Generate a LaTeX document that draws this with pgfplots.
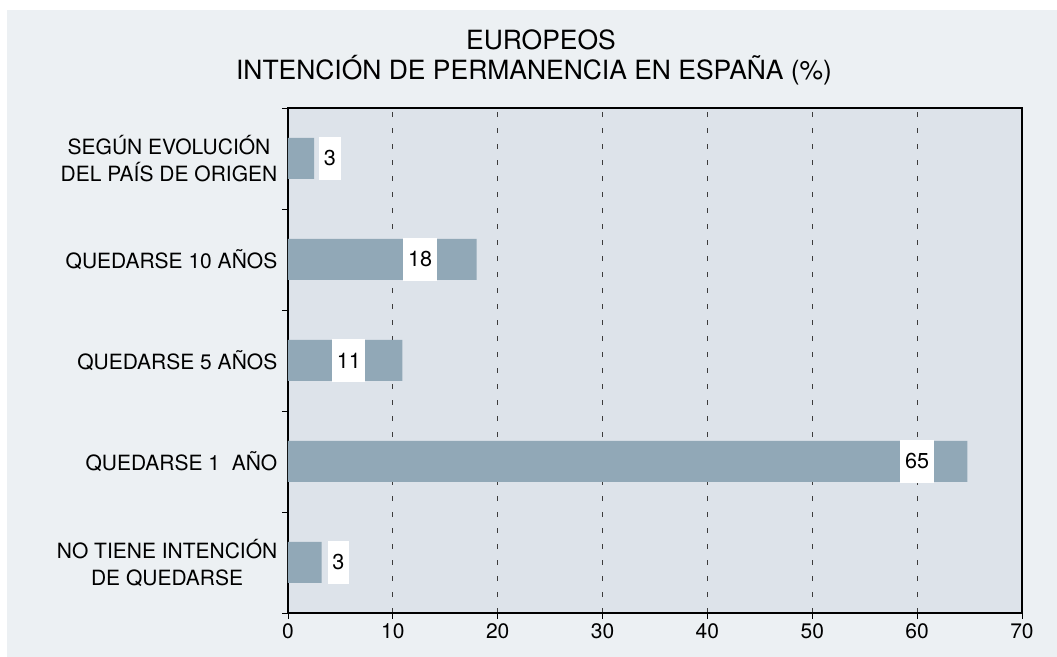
\documentclass[border=0pt]{standalone}
\usepackage{fontspec}
\setmainfont{TeX Gyre Heros}
\usepackage{pgfplots}
\pgfplotsset{compat=1.18}
\definecolor{panel}{RGB}{236,240,243}
\definecolor{plotbg}{RGB}{221,227,234}
\definecolor{barc}{RGB}{145,168,183}
\definecolor{gridc}{RGB}{60,60,60}
\begin{document}
\begin{tikzpicture}
\useasboundingbox (-216pt,-33pt) rectangle (576.75pt,459.75pt);
\fill[panel] (-210.75pt,-33pt) rectangle (576.75pt,452.25pt);
\begin{axis}[
  scale only axis, width=550.5pt, height=378.75pt,
  xmin=0, xmax=70, ymin=0.5, ymax=5.5,
  axis background/.style={fill=plotbg},
  axis line style={line width=1.5pt, black},
  tick align=outside,
  xtick pos=bottom, ytick pos=left,
  xtick={0,10,...,70},
  ytick={1,2,3,4,5},
  yticklabels={{NO TIENE INTENCIÓN\\DE QUEDARSE}, {QUEDARSE 1\ \ AÑO}, {QUEDARSE 5 AÑOS}, {QUEDARSE 10 AÑOS}, {SEGÚN EVOLUCIÓN\\DEL PAÍS DE ORIGEN}},
  minor ytick={0.5,1.5,...,5.5},
  major y tick style={draw=none},
  major tick length=4.5pt,
  minor tick length=4.5pt,
  tick style={black, line width=0.6pt},
  xmajorgrids,
  grid style={gridc, line width=0.7pt, dash pattern=on 3.75pt off 8.25pt},
  yticklabel style={align=center, font=\fontsize{15.75}{20.25}\selectfont},
  xticklabel style={font=\fontsize{15.75}{20.25}\selectfont},
  /pgf/number format/assume math mode=true,
]
\addplot[xbar, bar width=30.75pt, fill=barc, draw=none] coordinates {(3.2,1) (64.8,2) (10.9,3) (18,4) (2.5,5)};
\addplot[draw=none, mark=none, nodes near coords, point meta=explicit symbolic,
  every node near coord/.append style={fill=white, anchor=center, inner xsep=3.5pt, inner ysep=0pt, minimum height=32.25pt, text=black, font=\fontsize{16.2}{18}\selectfont}]
  coordinates {(4.8,1)[3] (60,2)[65] (5.8,3)[11] (12.6,4)[18] (4.0,5)[3]};
\end{axis}
\node[anchor=base, font=\fontsize{19.85}{24}\selectfont] at (189.75pt,422.25pt) {EUROPEOS};
\node[anchor=base, font=\fontsize{19.85}{24}\selectfont] at (184.5pt,399.75pt) {INTENCIÓN DE PERMANENCIA EN ESPAÑA (\%)};
\end{tikzpicture}
\end{document}
